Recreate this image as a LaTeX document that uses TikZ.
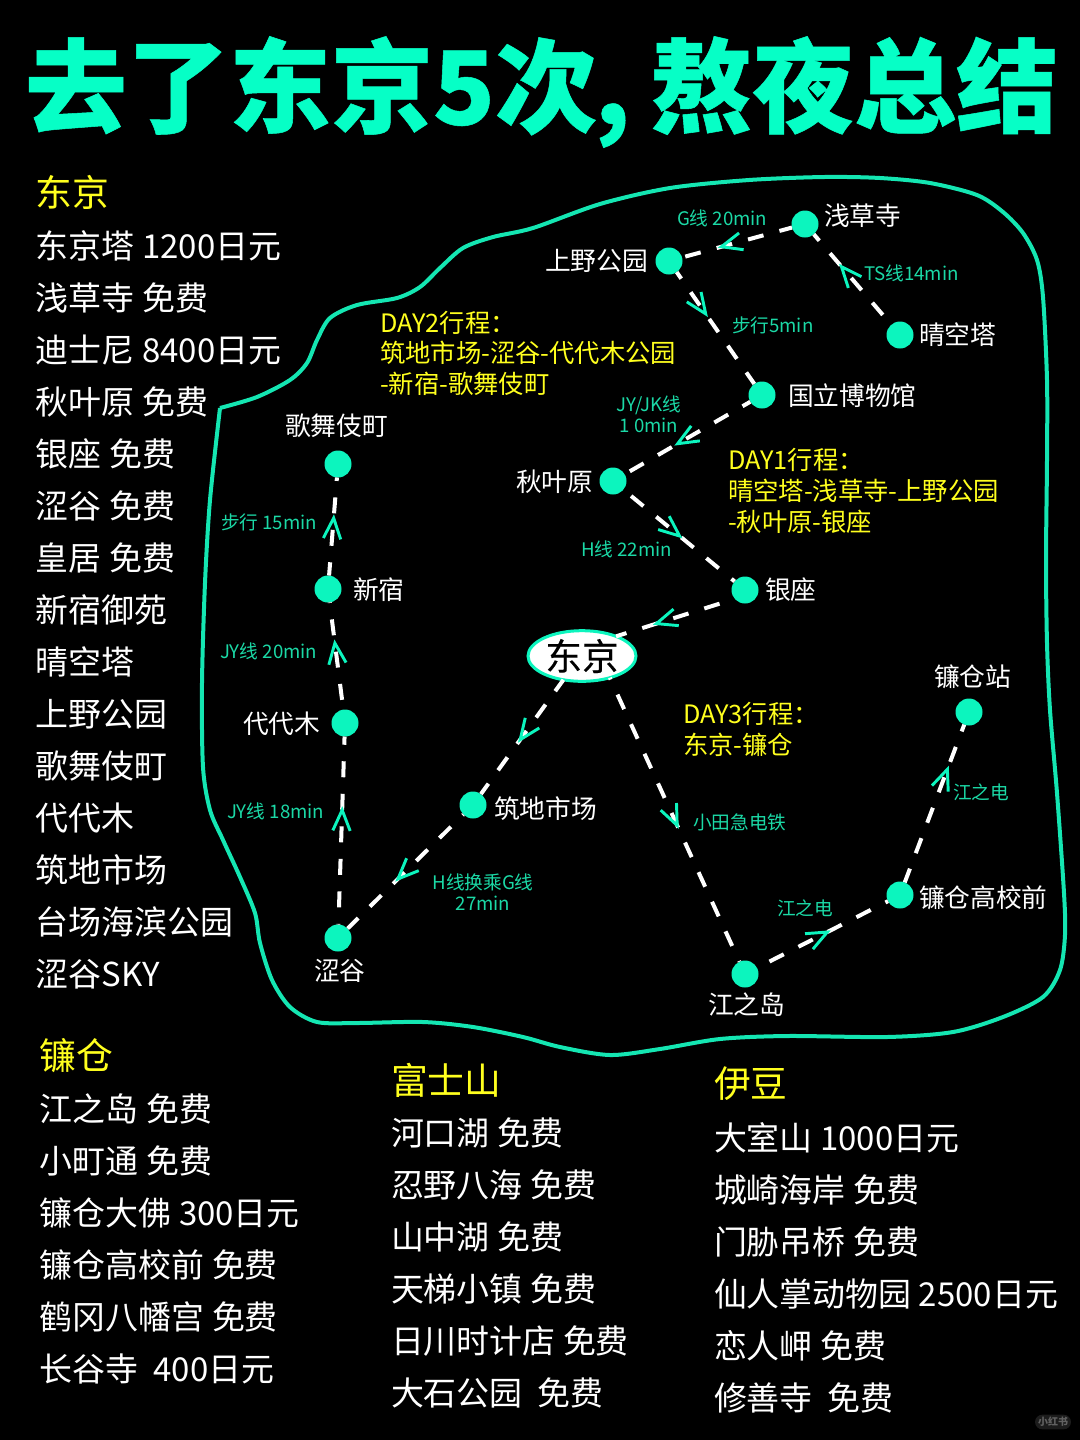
\documentclass[tikz,border=0pt]{standalone}
\usepackage{fontspec}
\setmainfont{Noto Sans CJK SC}
\newfontfamily\titlefont[BoldFeatures={FakeBold=0.5}]{Noto Sans CJK SC}
\newfontfamily\hubfont[FakeBold=0.3]{Noto Sans CJK SC}
\usetikzlibrary{shapes.geometric,decorations.markings}
\definecolor{mint}{HTML}{0CF5BE}
\definecolor{titlemint}{HTML}{06FFC6}
\definecolor{linemint}{HTML}{14E6B2}
\definecolor{mintlabel}{HTML}{1BD9A6}
\definecolor{plan}{HTML}{FFFF1E}
\tikzset{
  txt/.style={inner sep=0pt,outer sep=0pt,anchor=west},
  heading/.style={txt,text=plan,font=\fontsize{27.6pt}{27.6pt}\selectfont,text height=24.3pt,text depth=3.3pt},
  listitem/.style={txt,text=white,font=\fontsize{24.7pt}{24.7pt}\selectfont,text height=21.7pt,text depth=3pt},
  place/.style={txt,text=white,font=\fontsize{19.3pt}{19.3pt}\selectfont,text height=17pt,text depth=2.3pt},
  route/.style={txt,text=mintlabel,font=\fontsize{14pt}{14pt}\selectfont,text height=12.3pt,text depth=1.7pt},
  routec/.style={route,anchor=center},
  planline/.style={txt,text=plan,font=\fontsize{19pt}{19pt}\selectfont,text height=16.7pt,text depth=2.3pt},
  stop/.style={circle,fill=mint,minimum size=20.25pt,inner sep=0pt,outer sep=0pt},
  hub/.style={ellipse,draw=mint,line width=2.25pt,fill=white,minimum width=81pt,minimum height=38pt,inner sep=0pt,outer sep=0pt,font=\fontsize{27.5pt}{27.5pt}\selectfont\hubfont,text=black},
  leg/.style 2 args={draw=white,line width=3pt,dash pattern=on 12pt off 12.4pt,dash phase=#2,
    postaction={decorate,decoration={markings,mark=at position #1 with {
      \draw[mint,line width=2.2pt,solid,line join=miter] (-15.5pt,6.5pt)--(0pt,0pt)--(-15.5pt,-6.5pt);}}}},
  outline/.style={draw=linemint,line width=3pt,line join=round},
}
\begin{document}
\begin{tikzpicture}[x=.75pt,y=-.75pt]
\useasboundingbox (0,0) rectangle (1080,1440);
\fill[black] (0,0) rectangle (1080,1440);
\node[txt,text=titlemint,font=\fontsize{76.5pt}{76.5pt}\selectfont\titlefont\bfseries] (title) at (25,92) {去了东京5次\kern-2pt,\kern-2.5pt{} 熬夜总结};
% outline
\draw[outline] plot[smooth,tension=.5] coordinates {(220,408) (257,397) (290,380) (307,363) (317,340) (330,318) (357,305) (397,298) (420,287) (440,268) (463,248) (493,237) (533,228) (600,204) (670,188) (749,180) (824,177) (880,178) (930,183) (977,195) (1003,212) (1023,233) (1037,260) (1043,297) (1047,380) (1047,460) (1046,560) (1047,643) (1050,710) (1057,793) (1064,893) (1065,935) (1060,970) (1043,997) (1003,1017) (953,1032) (887,1037) (787,1036) (720,1039) (660,1049) (610,1055) (560,1047) (523,1037) (473,1027) (423,1022) (357,1023) (317,1022) (290,1007) (272,980) (260,943) (255,913) (240,877) (223,840) (210,810) (203,767) (202,683) (205,583) (210,500) (220,408)};
% stops
\node[stop] (asakusa) at (805,224) {};
\node[stop] (ueno) at (669,261) {};
\node[stop] (skytree) at (900,335) {};
\node[stop] (museum) at (762,395) {};
\node[stop] (akiba) at (613,481) {};
\node[stop] (ginza) at (745,590) {};
\node[hub] (tokyo) at (582,656) {东京};
\node[stop] (kabuki) at (338,464) {};
\node[stop] (shinjuku) at (328,589) {};
\node[stop] (yoyogi) at (345,723) {};
\node[stop] (shibuya) at (338,938) {};
\node[stop] (tsukiji) at (473,805) {};
\node[stop] (enoshima) at (745,974) {};
\node[stop] (koukou) at (900,895) {};
\node[stop] (kamakura) at (969,712) {};
% legs
\draw[leg={.643}{14.65pt}] (skytree) -- (asakusa);
\draw[leg={.642}{2.25pt}] (asakusa) -- (ueno);
\draw[leg={.374}{6pt}] (ueno) -- (museum);
\draw[leg={.579}{5.25pt}] (museum) -- (akiba);
\draw[leg={.507}{16.9pt}] (akiba) -- (ginza);
\draw[leg={.66}{12.4pt}] (ginza.221) -- (tokyo.30);
\draw[leg={.525}{1.5pt}] (tokyo.232) -- (tsukiji);
\draw[leg={.566}{11.25pt}] (tsukiji) -- (shibuya);
\draw[leg={.609}{11.5pt}] (shibuya) -- (yoyogi);
\draw[leg={.62}{17pt}] (yoyogi) -- (shinjuku);
\draw[leg={.586}{2pt}] (shinjuku) -- (kabuki);
\draw[leg={.52}{10.5pt}] (tokyo.-38) -- (enoshima);
\draw[leg={.538}{13.9pt}] (enoshima) -- (koukou);
\draw[leg={.717}{1pt}] (koukou) -- (kamakura);
% place labels
\node[place] (l1) at (824,216) {浅草寺};
\node[place] (l2) at (545,261) {上野公园};
\node[place] (l3) at (919,335) {晴空塔};
\node[place] (l4) at (788,396) {国立博物馆};
\node[place] (l5) at (516,482) {秋叶原};
\node[place] (l6) at (765,590) {银座};
\node[place] (l7) at (285,426) {歌舞伎町};
\node[place] (l8) at (353,590) {新宿};
\node[place] (l9) at (243,724) {代代木};
\node[place] (l10) at (314,971) {涩谷};
\node[place] (l11) at (494,809) {筑地市场};
\node[place] (l12) at (708,1005) {江之岛};
\node[place] (l13) at (919,898) {镰仓高校前};
\node[place] (l14) at (934,677) {镰仓站};
% route labels
\node[route] (r1) at (677,218) {G线 20min};
\node[route] (r2) at (864,273) {TS线14min};
\node[route] (r3) at (732,325) {步行5min};
\node[routec] (r4) at (649,404) {JY/JK线};
\node[routec] (r5) at (649,425) {1 0min};
\node[route] (r6) at (581,549) {H线 22min};
\node[route] (r7) at (221,522) {步行 15min};
\node[route] (r8) at (220,651) {JY线 20min};
\node[route] (r9) at (227,811) {JY线 18min};
\node[routec] (r10) at (483,882) {H线换乘G线};
\node[routec] (r11) at (483,903) {27min};
\node[route] (r12) at (693,822) {小田急电铁};
\node[route] (r13) at (777,908) {江之电};
\node[route] (r14) at (953,792) {江之电};
% plans
\node[planline] (p1) at (380,323) {DAY2行程：};
\node[planline] (p2) at (380,353) {筑地市场-涩谷-代代木公园};
\node[planline] (p3) at (380,384) {-新宿-歌舞伎町};
\node[planline] (p4) at (728,460) {DAY1行程：};
\node[planline] (p5) at (728,491) {晴空塔-浅草寺-上野公园};
\node[planline] (p6) at (728,522) {-秋叶原-银座};
\node[planline] (p7) at (683,714) {DAY3行程：};
\node[planline] (p8) at (683,745) {东京-镰仓};
% lists
\node[heading] (h1) at (36,192) {东京};
\foreach \t [count=\i] in {东京塔 1200日元,浅草寺 免费,迪士尼 8400日元,秋叶原 免费,银座 免费,涩谷 免费,皇居 免费,新宿御苑,晴空塔,上野公园,歌舞伎町,代代木,筑地市场,台场海滨公园,涩谷SKY}
  \node[listitem] (a\i) at (36,{246+52*(\i-1)}) {\t};
\node[heading] (h2) at (40,1055) {镰仓};
\foreach \t [count=\i] in {江之岛 免费,小町通 免费,镰仓大佛 300日元,镰仓高校前 免费,鹤冈八幡宫 免费,长谷寺\ \ 400日元}
  \node[listitem] (b\i) at (40,{1109+52*(\i-1)}) {\t};
\node[heading] (h3) at (391,1080) {富士山};
\foreach \t [count=\i] in {河口湖 免费,忍野八海 免费,山中湖 免费,天梯小镇 免费,日川时计店 免费,大石公园\ \ 免费}
  \node[listitem] (c\i) at (391,{1133+52*(\i-1)}) {\t};
\node[heading] (h4) at (714,1083) {伊豆};
\foreach \t [count=\i] in {大室山 1000日元,城崎海岸 免费,门胁吊桥 免费,仙人掌动物园 2500日元,恋人岬 免费,修善寺\ \ 免费}
  \node[listitem] (d\i) at (714,{1138+52*(\i-1)}) {\t};
% watermark
\node[rectangle,rounded corners=5.5pt,fill=white!11!black,text=white!38!black,font=\fontsize{7.5pt}{7.5pt}\selectfont\bfseries,minimum width=27pt,minimum height=11pt,inner sep=0pt] (wm) at (1053,1422) {小红书};
\end{tikzpicture}
\end{document}
